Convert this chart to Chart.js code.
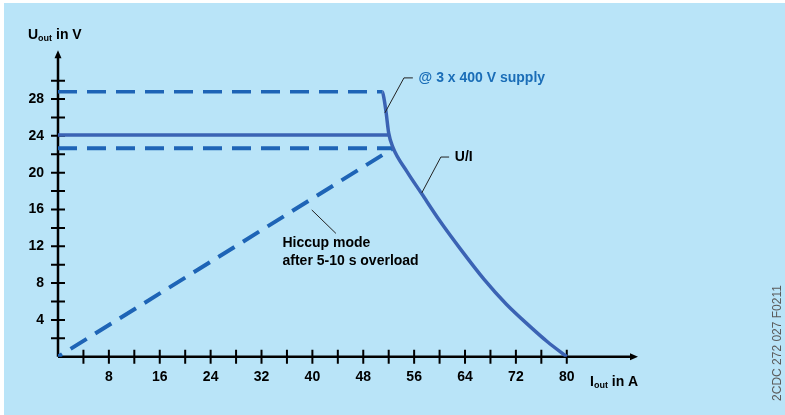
<!DOCTYPE html>
<html><head><meta charset="utf-8">
<script src="https://cdn.jsdelivr.net/npm/chart.js@4/dist/chart.umd.min.js"></script>
<style>html,body{margin:0;padding:0;background:#fff;overflow:hidden}canvas{display:block}</style>
</head><body>
<canvas id="c" width="785" height="415"></canvas>
<script>
// ---- tick values / labels ----
const xTickValues = [4,8,12,16,20,24,28,32,36,40,44,48,52,56,60,64,68,72,76,80];
const xLabelValues = [8,16,24,32,40,48,56,64,72,80];
const yTickValues = [2,4,6,8,10,12,14,16,18,20,22,24,26,28,30];
const yLabelValues = [4,8,12,16,20,24,28];

// ---- series (I in A, U in V) ----
const supplyI = [0, 51.0, 51.3, 51.6, 52.0, 52.7, 54.8, 57.2, 60.0, 63.5, 67.0, 70.5, 74.2, 77.0, 80.0];
const supplyU = [28.8, 28.8, 27.9, 26.5, 24.3, 22.7, 20.2, 17.7, 14.8, 11.5, 8.4, 5.7, 3.3, 1.6, 0.0];
const nominalI = [0, 52.0];
const nominalU = [24.1, 24.1];
const hiccupI = [0, 52.7, 0];
const hiccupU = [22.65, 22.65, 0];

const FONT = '"Liberation Sans", Arial, Helvetica, sans-serif';
const DASH_COLOR = '#1e64b6';
const SOLID_COLOR = '#3b63b4';
const BG = '#b9e4f8';

const toXY = (xs, ys) => xs.map((x, i) => ({x: x, y: ys[i]}));

const decor = {
  id: 'decor',
  beforeDraw(chart) {
    const c = chart.ctx;
    c.save();
    c.fillStyle = '#ffffff';
    c.fillRect(0, 0, chart.width, chart.height);
    c.fillStyle = BG;
    c.fillRect(4, 3, chart.width - 4, chart.height - 3);
    c.restore();
  },
  beforeDatasetsDraw(chart) {
    const c = chart.ctx, xs = chart.scales.x, ys = chart.scales.y;
    const x0 = xs.getPixelForValue(0), y0 = ys.getPixelForValue(0);
    const xEnd = xs.getPixelForValue(xs.max), yEnd = ys.getPixelForValue(ys.max);
    c.save();
    c.strokeStyle = '#000'; c.fillStyle = '#000';
    c.lineWidth = 2.5; c.lineCap = 'butt';
    c.beginPath();
    c.moveTo(x0, y0); c.lineTo(xEnd - 5, y0);
    c.moveTo(x0, y0); c.lineTo(x0, yEnd + 5);
    c.stroke();
    // arrows
    c.beginPath();
    c.moveTo(xEnd, y0); c.lineTo(xEnd - 8, y0 - 3.5); c.lineTo(xEnd - 8, y0 + 3.5); c.closePath();
    c.moveTo(x0, yEnd); c.lineTo(x0 - 3.5, yEnd + 8); c.lineTo(x0 + 3.5, yEnd + 8); c.closePath();
    c.fill();
    // crossing ticks
    c.lineWidth = 2;
    c.beginPath();
    xTickValues.forEach(v => { const p = xs.getPixelForValue(v); c.moveTo(p, y0 - 7); c.lineTo(p, y0 + 7); });
    yTickValues.forEach(v => { const p = ys.getPixelForValue(v); c.moveTo(x0 - 7, p); c.lineTo(x0 + 7, p); });
    c.stroke();
    c.restore();
  },
  afterDatasetsDraw(chart) {
    const c = chart.ctx, xs = chart.scales.x, ys = chart.scales.y;
    const X = v => xs.getPixelForValue(v), Y = v => ys.getPixelForValue(v);
    c.save();
    // leader lines
    c.strokeStyle = '#222'; c.lineWidth = 1;
    c.beginPath();
    c.moveTo(X(51.4), Y(26.5)); c.lineTo(X(54.4), Y(30.3)); c.lineTo(X(55.8), Y(30.3));
    c.moveTo(X(57.2), Y(17.8)); c.lineTo(X(60.2), Y(21.7)); c.lineTo(X(61.5), Y(21.7));
    c.moveTo(X(39.9), Y(15.95)); c.lineTo(X(43.7), Y(13.4));
    c.stroke();
    // annotation texts
    c.textBaseline = 'middle'; c.textAlign = 'left';
    c.font = 'bold 14px ' + FONT;
    c.fillStyle = '#1a6db7';
    c.fillText('@ 3 x 400 V supply', X(56.7), Y(30.3));
    c.fillStyle = '#000';
    c.fillText('U/I', X(62.4), Y(21.7));
    c.fillText('Hiccup mode', X(35.3), Y(12.3));
    c.fillText('after 5-10 s overload', X(35.3), Y(10.4));
    // axis titles
    c.textBaseline = 'alphabetic';
    const sub = (x, y, main, s, rest) => {
      c.font = 'bold 14px ' + FONT; c.fillText(main, x, y);
      let w = c.measureText(main).width;
      c.font = 'bold 9px ' + FONT; c.fillText(s, x + w, y + 2);
      w += c.measureText(s).width;
      c.font = 'bold 14px ' + FONT; c.fillText(rest, x + w, y);
    };
    sub(28, 39, 'U', 'out', ' in V');
    sub(590, 385.5, 'I', 'out', ' in A');
    // side code
    c.translate(778, 343);
    c.rotate(-Math.PI / 2);
    c.textAlign = 'center'; c.textBaseline = 'middle';
    c.font = '12px ' + FONT; c.fillStyle = '#5a5a5a';
    c.fillText('2CDC 272 027 F0211', 0, 0);
    c.restore();
  }
};

const tickFont = {family: FONT, size: 14, weight: 'bold'};

new Chart(document.getElementById('c'), {
  type: 'scatter',
  data: {
    datasets: [
      {
        label: 'supply', data: toXY(supplyI, supplyU), showLine: true,
        pointRadius: 0, borderWidth: 3.5, borderColor: SOLID_COLOR,
        cubicInterpolationMode: 'monotone', tension: 0.4,
        segment: {
          borderDash: ctx => ctx.p0DataIndex === 0 ? [19, 10] : [],
          borderColor: ctx => ctx.p0DataIndex === 0 ? DASH_COLOR : SOLID_COLOR
        }
      },
      {
        label: 'nominal', data: toXY(nominalI, nominalU), showLine: true,
        pointRadius: 0, borderWidth: 3.5, borderColor: SOLID_COLOR, tension: 0
      },
      {
        label: 'hiccup', data: toXY(hiccupI, hiccupU), showLine: true,
        pointRadius: 0, borderWidth: 4, borderColor: DASH_COLOR, tension: 0,
        borderDash: [19, 10], borderJoinStyle: 'bevel'
      }
    ]
  },
  options: {
    responsive: false, animation: false, devicePixelRatio: 1,
    layout: {padding: {left: 0, right: 147, top: 50.3, bottom: 18.3}},
    plugins: {legend: {display: false}, tooltip: {enabled: false}},
    scales: {
      x: {
        type: 'linear', min: 0, max: 91.2,
        afterBuildTicks: a => { a.ticks = xTickValues.map(v => ({value: v})); },
        afterFit: a => { a.height = 40; },
        grid: {display: false, drawTicks: false}, border: {display: false},
        ticks: {autoSkip: false, maxRotation: 0, padding: 12, color: '#000', font: tickFont,
          callback: v => xLabelValues.includes(v) ? String(v) : ''}
      },
      y: {
        type: 'linear', min: 0, max: 33.3,
        afterBuildTicks: a => { a.ticks = yTickValues.map(v => ({value: v})); },
        afterFit: a => { a.width = 58; },
        grid: {display: false, drawTicks: false}, border: {display: false},
        ticks: {autoSkip: false, padding: 14, color: '#000', font: tickFont,
          callback: v => yLabelValues.includes(v) ? String(v) : ''}
      }
    }
  },
  plugins: [decor]
});
</script>
</body></html>
